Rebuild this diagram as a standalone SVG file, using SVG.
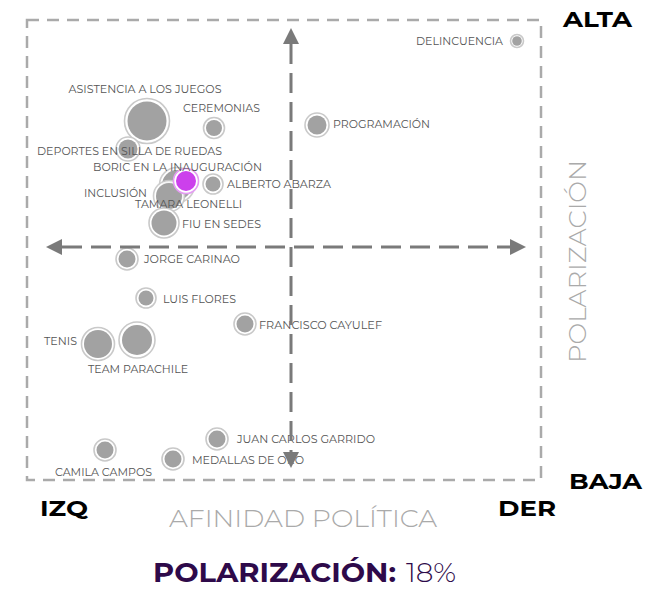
<svg xmlns="http://www.w3.org/2000/svg" width="661" height="590" viewBox="0 0 661 590">
<defs>
<style>
.lbl{font-family:"Montserrat","Open Sans","Liberation Sans",sans-serif;font-size:11px;fill:#555;}
.big{font-family:"Montserrat","Open Sans","Liberation Sans",sans-serif;font-weight:700;font-size:22px;fill:#000;}
.ax{font-family:"Montserrat","Open Sans","Liberation Sans",sans-serif;font-weight:300;font-size:24px;fill:#aaa;}
.ring{fill:#fff;stroke:#c9c9c9;stroke-width:1.6;}
.dot{fill:#a2a2a2;}
.pring{fill:#fff;stroke:#e49cf2;stroke-width:1.6;}
.pdot{fill:#cc40ec;}
.ttl{font-family:"Montserrat","Open Sans","Liberation Sans",sans-serif;font-size:27px;fill:#2e0a4a;}
</style>
<marker id="ah" viewBox="0 0 16 16" refX="0" refY="8" markerWidth="16" markerHeight="16" markerUnits="userSpaceOnUse" orient="auto-start-reverse">
<path d="M0,0 L16,8 L0,16 z" fill="#7a7a7a"/>
</marker>
</defs>
<rect width="661" height="590" fill="#fff"/>
<rect id="frame" x="27" y="20" width="514" height="460" fill="none" stroke="#aaa" stroke-width="2.5" stroke-dasharray="12 8"/>

<g id="n-asistencia"><circle class="ring" cx="147" cy="121" r="22.5"/><circle class="dot" cx="147" cy="121" r="19.5"/><text class="lbl" x="145" y="93" text-anchor="middle" textLength="153" lengthAdjust="spacingAndGlyphs">ASISTENCIA A LOS JUEGOS</text></g>
<g id="n-deportes"><circle class="ring" cx="128" cy="149" r="12"/><circle class="dot" cx="128" cy="149" r="9.5"/></g>
<g id="n-ceremonias"><circle class="ring" cx="214" cy="128" r="10.5"/><circle class="dot" cx="214" cy="128" r="8"/><text class="lbl" x="183" y="112" textLength="77" lengthAdjust="spacingAndGlyphs">CEREMONIAS</text></g>
<g id="n-delincuencia"><circle class="ring" cx="517" cy="41" r="6.5"/><circle class="dot" cx="517" cy="41" r="4.8"/><text class="lbl" x="503" y="45" text-anchor="end" textLength="87" lengthAdjust="spacingAndGlyphs">DELINCUENCIA</text></g>
<g id="n-programacion"><circle class="ring" cx="317" cy="125" r="12"/><circle class="dot" cx="317" cy="125" r="9.5"/><text class="lbl" x="333" y="128" textLength="97" lengthAdjust="spacingAndGlyphs">PROGRAMACIÓN</text></g>
<g id="n-inclusion"><circle class="ring" cx="177" cy="185" r="17.5" opacity="0.9"/><circle class="dot" cx="177" cy="185" r="15"/><text class="lbl" x="84" y="197" textLength="63" lengthAdjust="spacingAndGlyphs">INCLUSIÓN</text></g>
<g id="n-tamara"><circle class="ring" cx="169" cy="196" r="15.5" opacity="0.9"/><circle class="dot" cx="169" cy="196" r="13"/></g>
<g id="n-alberto"><circle class="ring" cx="213" cy="184" r="10"/><circle class="dot" cx="213" cy="184" r="7.5"/><text class="lbl" x="227" y="188" textLength="104" lengthAdjust="spacingAndGlyphs">ALBERTO ABARZA</text></g>
<g id="n-boric"><circle class="pring" cx="186" cy="181" r="12.5"/><circle class="pdot" cx="186" cy="181" r="10"/></g>
<g id="n-fiu"><circle class="ring" cx="164" cy="223" r="15"/><circle class="dot" cx="164" cy="223" r="12.5"/><text class="lbl" x="182" y="228" textLength="79" lengthAdjust="spacingAndGlyphs">FIU EN SEDES</text></g>
<text class="lbl" x="37" y="155" textLength="185" lengthAdjust="spacingAndGlyphs">DEPORTES EN SILLA DE RUEDAS</text>
<text class="lbl" x="93" y="171" textLength="169" lengthAdjust="spacingAndGlyphs">BORIC EN LA INAUGURACIÓN</text>
<text class="lbl" x="135" y="208" textLength="107" lengthAdjust="spacingAndGlyphs">TAMARA LEONELLI</text>
<g id="n-jorge"><circle class="ring" cx="127" cy="259" r="11"/><circle class="dot" cx="127" cy="259" r="8.5"/><text class="lbl" x="144" y="263" textLength="96" lengthAdjust="spacingAndGlyphs">JORGE CARINAO</text></g>
<g id="n-luis"><circle class="ring" cx="146" cy="298" r="10"/><circle class="dot" cx="146" cy="298" r="7.5"/><text class="lbl" x="163" y="303" textLength="73" lengthAdjust="spacingAndGlyphs">LUIS FLORES</text></g>
<g id="n-francisco"><circle class="ring" cx="245" cy="324" r="11"/><circle class="dot" cx="245" cy="324" r="8.5"/><text class="lbl" x="259" y="329" textLength="123" lengthAdjust="spacingAndGlyphs">FRANCISCO CAYULEF</text></g>
<g id="n-tenis"><circle class="ring" cx="98" cy="344" r="16.5"/><circle class="dot" cx="98" cy="344" r="14"/><text class="lbl" x="44" y="345" textLength="33" lengthAdjust="spacingAndGlyphs">TENIS</text></g>
<g id="n-team"><circle class="ring" cx="137" cy="340" r="18"/><circle class="dot" cx="137" cy="340" r="15"/><text class="lbl" x="88" y="373" textLength="100" lengthAdjust="spacingAndGlyphs">TEAM PARACHILE</text></g>
<g id="n-juan"><circle class="ring" cx="217" cy="439" r="11"/><circle class="dot" cx="217" cy="439" r="8.5"/><text class="lbl" x="237" y="443" textLength="138" lengthAdjust="spacingAndGlyphs">JUAN CARLOS GARRIDO</text></g>
<g id="n-medallas"><circle class="ring" cx="173" cy="459" r="11"/><circle class="dot" cx="173" cy="459" r="8.5"/><text class="lbl" x="192" y="464" textLength="112" lengthAdjust="spacingAndGlyphs">MEDALLAS DE ORO</text></g>
<g id="n-camila"><circle class="ring" cx="105" cy="450" r="11"/><circle class="dot" cx="105" cy="450" r="8.5"/><text class="lbl" x="55" y="476" textLength="97" lengthAdjust="spacingAndGlyphs">CAMILA CAMPOS</text></g>

<g id="connectors" fill="none" stroke="#7a7a7a" stroke-width="3" stroke-dasharray="20 9">
<path d="M291,44 V452" marker-start="url(#ah)" marker-end="url(#ah)"/>
<path d="M62,247 H510" marker-start="url(#ah)" marker-end="url(#ah)"/>
</g>

<text class="big" x="563" y="27" textLength="69" lengthAdjust="spacingAndGlyphs">ALTA</text>
<text class="big" x="569" y="489" textLength="73" lengthAdjust="spacingAndGlyphs">BAJA</text>
<text class="big" x="40" y="516" textLength="48" lengthAdjust="spacingAndGlyphs">IZQ</text>
<text class="big" x="498" y="516" textLength="58" lengthAdjust="spacingAndGlyphs">DER</text>
<text class="ax" x="169" y="527" textLength="268" lengthAdjust="spacingAndGlyphs">AFINIDAD POLÍTICA</text>
<text class="ax" transform="translate(586,363) rotate(-90)" x="0" y="0" textLength="203" lengthAdjust="spacingAndGlyphs">POLARIZACIÓN</text>
<text class="ttl" x="153" y="582" font-weight="700" textLength="243" lengthAdjust="spacingAndGlyphs">POLARIZACIÓN:</text>
<text class="ttl" x="406" y="582" font-weight="300" textLength="50" lengthAdjust="spacingAndGlyphs">18%</text>
</svg>
